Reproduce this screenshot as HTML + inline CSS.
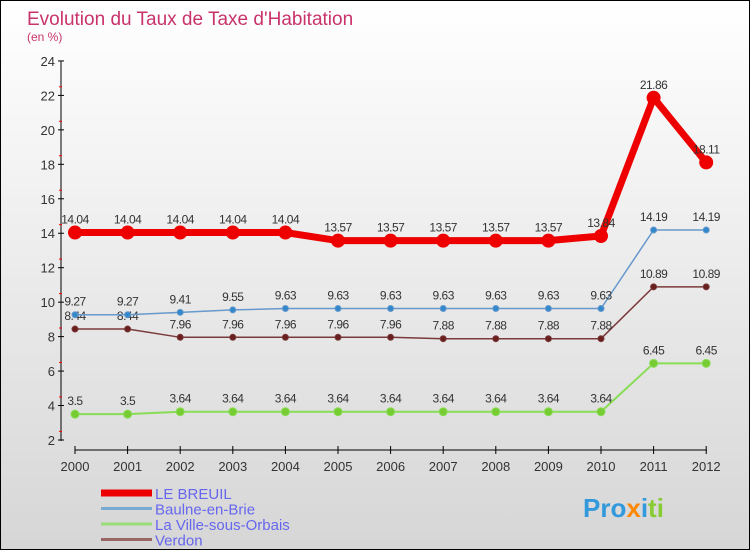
<!DOCTYPE html>
<html><head><meta charset="utf-8"><style>
body{margin:0}
#c{width:750px;height:550px;position:relative;box-sizing:border-box;border:1px solid #000;background:linear-gradient(#fff,#f3f3f3 30%,#d6d6d6);font-family:"Liberation Sans",sans-serif;overflow:hidden}
</style></head><body>
<div id="c">
<svg id="s" width="748" height="548" xmlns="http://www.w3.org/2000/svg" font-family="Liberation Sans, sans-serif"></svg>
</div>
<script>
const years=[2000,2001,2002,2003,2004,2005,2006,2007,2008,2009,2010,2011,2012];
const breuil=[14.04,14.04,14.04,14.04,14.04,13.57,13.57,13.57,13.57,13.57,13.84,21.86,18.11];
const baulne=[9.27,9.27,9.41,9.55,9.63,9.63,9.63,9.63,9.63,9.63,9.63,14.19,14.19];
const ville=[3.5,3.5,3.64,3.64,3.64,3.64,3.64,3.64,3.64,3.64,3.64,6.45,6.45];
const verdon=[8.44,8.44,7.96,7.96,7.96,7.96,7.96,7.88,7.88,7.88,7.88,10.89,10.89];
const yTicks=[2,4,6,8,10,12,14,16,18,20,22,24];
const s=document.getElementById('s');
const NS='http://www.w3.org/2000/svg';
const X=i=>74+i*52.6, Y=v=>439-(v-2)*17.23;
function el(t,a,p){const e=document.createElementNS(NS,t);for(const k in a)e.setAttribute(k,a[k]);(p||s).appendChild(e);return e;}
function txt(x,y,t,a){const e=el('text',Object.assign({x:x,y:y},a));e.textContent=t;return e;}
let e=txt(26,24,"Evolution du Taux de Taxe d'Habitation",{fill:'#c8336b','font-size':19});

e=txt(26,40,"(en %)",{fill:'#c8336b','font-size':12});

// axes
el('line',{x1:60,y1:60,x2:60,y2:440,stroke:'#000'});
el('line',{x1:74,y1:449,x2:706,y2:449,stroke:'#000'});
yTicks.forEach(v=>{const y=Y(v);el('line',{x1:57,y1:y,x2:63,y2:y,stroke:'#000'});
 if(v<24)el('line',{x1:58,y1:y-8.6,x2:61,y2:y-8.6,stroke:'red'});
 const t=txt(54,y+5,v,{'text-anchor':'end','font-size':13,fill:'#333'});
 });
years.forEach((yr,i)=>{el('line',{x1:X(i),y1:445,x2:X(i),y2:453,stroke:'#000'});
 const t=txt(X(i),470,yr,{'text-anchor':'middle','font-size':13,fill:'#333'});
 });
function series(d,col,w,r,name,dot){
 const g=el('g',{});
 el('polyline',{points:d.map((v,i)=>X(i)+','+Y(v)).join(' '),fill:'none',stroke:col,'stroke-width':w},g);
 d.forEach((v,i)=>{const c=el('circle',{cx:X(i),cy:Y(v),r:r,fill:dot,stroke:col,'stroke-width':1},g);
  
  const t=txt(X(i),Y(v)-9,v,{'text-anchor':'middle','font-size':12,fill:'#333','letter-spacing':'-0.5'},g);
  });
}
series(ville,'#88dd55',2,4,'la-ville-sous-orbais','#77cc33');
series(verdon,'#7a3a3a',1.5,3,'verdon','#6a1f1f');
series(baulne,'#6699cc',1.5,3,'baulne-en-brie','#3388cc');
series(breuil,'#ee0000',7,6.5,'le-breuil','#ee0000');
// legend
const L=[['LE BREUIL','#ee0000',7],['Baulne-en-Brie','#7aaad0',3],['La Ville-sous-Orbais','#99dd77',3],['Verdon','#996666',3]];
L.forEach((l,i)=>{const y=492+i*15.5;const g=el('g',{});
 
 el('line',{x1:100,y1:y,x2:151,y2:y,stroke:l[1],'stroke-width':l[2]},g);
 txt(154,y+6,l[0],{'font-size':15,fill:'#6666ee'},g);});
e=txt(582,516,'Pro',{'font-size':26,'font-weight':'bold',fill:'#3399dd'});

const t2=el('tspan',{fill:'#ff8800'},e);t2.textContent='x';
const t3=el('tspan',{fill:'#3399dd'},e);t3.textContent='i';
const t4=el('tspan',{fill:'#88cc33'},e);t4.textContent='ti';
</script>
</body></html>
